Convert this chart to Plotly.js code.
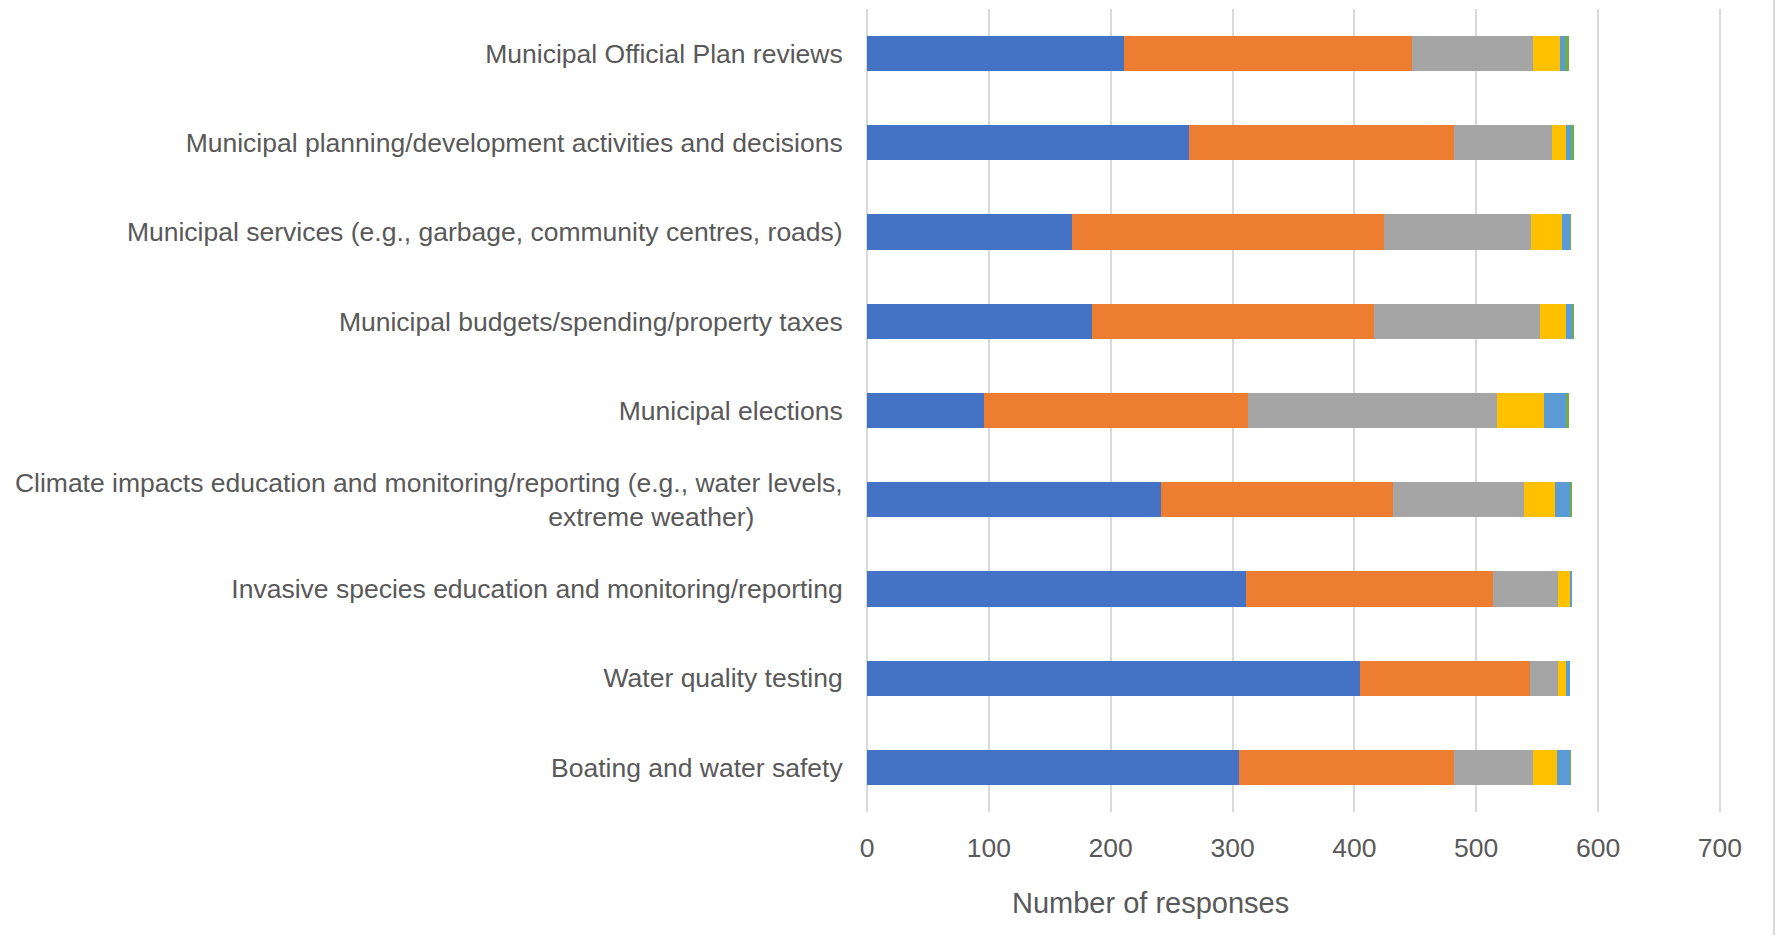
<!DOCTYPE html>
<html>
<head>
<meta charset="utf-8">
<script src="https://cdn.plot.ly/plotly-3.0.1.min.js"></script>
<style>
html,body{margin:0;padding:0;background:#fff;}
#chart{width:1781px;height:935px;}
</style>
</head>
<body>
<div id="chart"></div>
<script>
// Categories, top to bottom as shown
var categories = [
  "Municipal Official Plan reviews",
  "Municipal planning/development activities and decisions",
  "Municipal services (e.g., garbage, community centres, roads)",
  "Municipal budgets/spending/property taxes",
  "Municipal elections",
  "Climate impacts education and monitoring/reporting (e.g., water levels,<br>extreme weather)" + "\u00A0".repeat(12),
  "Invasive species education and monitoring/reporting",
  "Water quality testing",
  "Boating and water safety"
];

// Series values (number of responses), same order as categories
var seriesNames = ["Series 1", "Series 2", "Series 3", "Series 4", "Series 5", "Series 6"];
var s1 = [211, 264, 168, 185,  96, 241, 311, 405, 305];
var s2 = [236, 218, 256, 231, 217, 191, 203, 139, 177];
var s3 = [100,  80, 121, 136, 204, 107,  53,  23,  65];
var s4 = [ 22,  12,  25,  22,  39,  26,  10,   7,  19];
var s5 = [  4,   4,   7,   5,  18,  12,   2,   3,  11];
var s6 = [  3,   2,   1,   1,   2,   2,   0,   0,   1];

var xTicks = [0, 100, 200, 300, 400, 500, 600, 700];

var colors = ["#4472C4", "#ED7D31", "#A5A5A5", "#FFC000", "#5B9BD5", "#70AD47"];
var allSeries = [s1, s2, s3, s4, s5, s6];

var traces = allSeries.map(function (vals, i) {
  return {
    type: "bar",
    orientation: "h",
    name: seriesNames[i],
    x: vals,
    y: categories,
    marker: {color: colors[i], line: {width: 0}},
    hoverinfo: "x+name"
  };
});

var font = "Liberation Sans, Arial, sans-serif";
var W = 1781, H = 935;
var L = 867, R = 55, T = 9, B = 123;
var pw = W - L - R, ph = H - T - B;

var layout = {
  width: W, height: H,
  margin: {l: L, r: R, t: T, b: B, pad: 0},
  barmode: "stack",
  bargap: 0.605,
  showlegend: false,
  paper_bgcolor: "#ffffff",
  plot_bgcolor: "#ffffff",
  font: {family: font, color: "#595959", size: 26.5},
  xaxis: {
    range: [0, 705],
    tickvals: xTicks,
    ticktext: xTicks.map(String),
    showgrid: true,
    gridcolor: "#d9d9d9",
    gridwidth: 2,
    zeroline: true,
    zerolinecolor: "#d9d9d9",
    zerolinewidth: 2,
    showline: false,
    ticks: "outside",
    ticklen: 12,
    tickcolor: "rgba(0,0,0,0)",
    tickfont: {family: font, size: 26.5, color: "#595959"},
    fixedrange: true
  },
  yaxis: {
    type: "category",
    autorange: "reversed",
    showgrid: false,
    zeroline: false,
    showline: false,
    ticks: "outside",
    ticklen: 18,
    tickcolor: "rgba(0,0,0,0)",
    tickfont: {family: font, size: 26.5, color: "#595959"},
    fixedrange: true
  },
  annotations: [{
    text: "Number of responses",
    xref: "paper", yref: "paper",
    x: (1150.6 - L) / pw,
    y: -(903 - (T + ph)) / ph,
    xanchor: "center", yanchor: "middle",
    showarrow: false,
    font: {family: font, size: 29, color: "#595959"}
  }],
  shapes: [{
    type: "line",
    xref: "paper", yref: "paper",
    x0: (1774 - L) / pw, x1: (1774 - L) / pw,
    y0: -(B) / ph, y1: 1 + T / ph,
    line: {color: "#d9d9d9", width: 2}
  }]
};

Plotly.newPlot("chart", traces, layout, {displayModeBar: false, staticPlot: true});
</script>
</body>
</html>
